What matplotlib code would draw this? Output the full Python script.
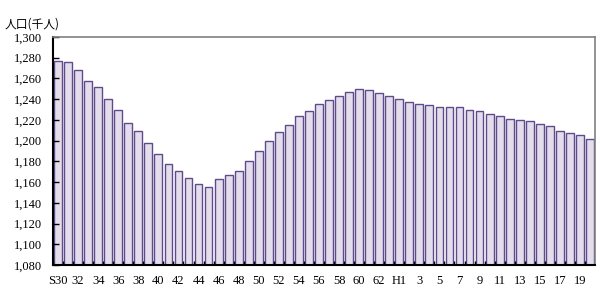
import matplotlib.pyplot as plt
import numpy as np

# Population (thousands), S30 .. S63, H1 .. H20
years = ['S30'] + [str(y) for y in range(31, 64)] + ['H1'] + [str(y) for y in range(2, 21)]
population = [
    1277, 1276, 1268, 1258, 1252, 1240, 1230, 1217, 1209, 1198,
    1187, 1177, 1171, 1164, 1158, 1155, 1163, 1167, 1171, 1180,
    1190, 1200, 1208, 1215, 1224, 1229, 1235, 1239, 1243, 1247,
    1250, 1249, 1246, 1243, 1240, 1237, 1235, 1234, 1232, 1232,
    1232, 1230, 1229, 1226, 1224, 1221, 1220, 1219, 1216, 1214,
    1209, 1207, 1205, 1202,
]
y_ticks = list(range(1080, 1301, 20))

plt.rcParams['font.family'] = ['Liberation Serif', 'Noto Sans CJK JP']

fig = plt.figure(figsize=(6.0, 2.97), dpi=100)
ax = fig.add_axes([53 / 600, 32 / 297, 542 / 600, 228 / 297])

x = np.arange(len(population))
ax.bar(
    x,
    np.array(population) - 1080,
    bottom=1080,
    width=0.78,
    color='#e4deec',
    edgecolor='#5f4b8b',
    linewidth=1.0,
)

ax.set_xlim(-0.5, len(population) - 0.5)
ax.set_ylim(1080, 1300)
ax.set_yticks(y_ticks)
ax.set_yticklabels(['{:,}'.format(v) for v in y_ticks], fontsize=9)

label_idx = [i for i in range(len(years)) if i % 2 == 0]
ax.set_xticks(label_idx)
ax.set_xticklabels([years[i] for i in label_idx], fontsize=9)
ax.set_xticks(np.arange(len(population)) - 0.5, minor=True)

ax.tick_params(axis='y', direction='in', length=4, width=1, pad=8)
ax.tick_params(axis='x', which='major', length=0, pad=7)
ax.tick_params(axis='x', which='minor', direction='in', length=3, width=1)

ax.spines['left'].set_linewidth(1.5)
ax.spines['bottom'].set_linewidth(1.5)
ax.spines['left'].set_color('black')
ax.spines['bottom'].set_color('black')
ax.spines['top'].set_color('#808080')
ax.spines['right'].set_color('#808080')
ax.spines['top'].set_linewidth(1.2)
ax.spines['right'].set_linewidth(1.2)

fig.text(5 / 600, 1 - 24 / 297, '人口(千人)', fontsize=8.5, va='center', ha='left',
         family=['Noto Sans CJK JP'])

fig.savefig('out.png', dpi=100)
